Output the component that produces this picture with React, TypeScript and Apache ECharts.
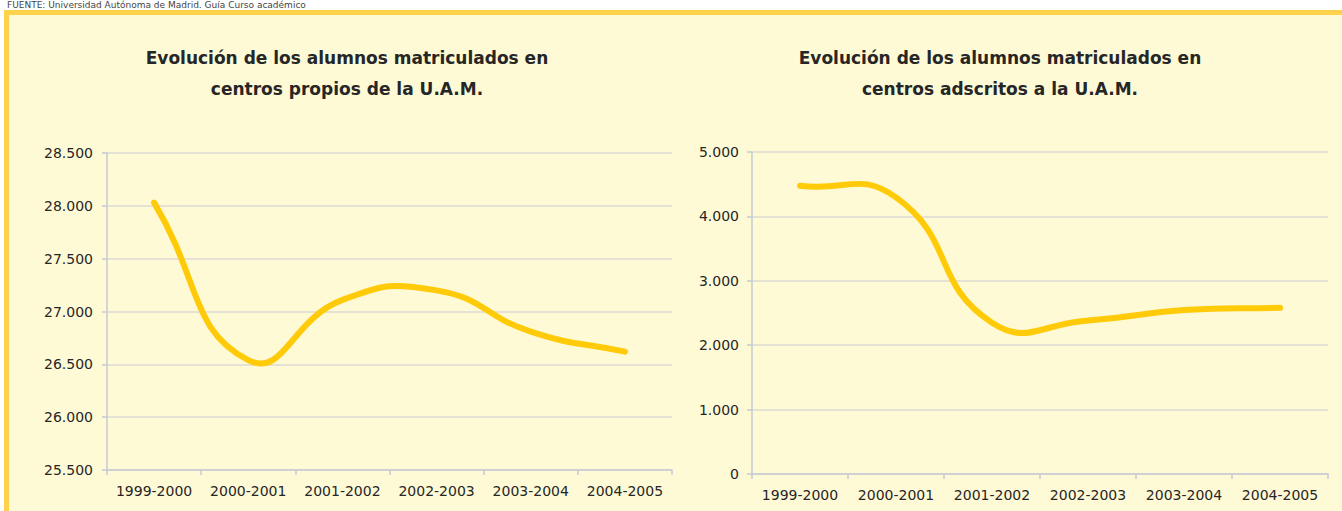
import React, { useEffect, useRef } from "react";
import * as echarts from "echarts";

const categories = ["1999-2000", "2000-2001", "2001-2002", "2002-2003", "2003-2004", "2004-2005"];
const propiosValues = [28030, 26540, 27110, 27200, 26810, 26620];
const adscritosValues = [4475, 4295, 2350, 2385, 2545, 2580];
const propiosTicks = [25500, 26000, 26500, 27000, 27500, 28000, 28500];
const adscritosTicks = [0, 1000, 2000, 3000, 4000, 5000];
const titlePropios = ["Evolución de los alumnos matriculados en", "centros propios de la U.A.M."];
const titleAdscritos = ["Evolución de los alumnos matriculados en", "centros adscritos a la U.A.M."];
const sourceNote = "FUENTE: Universidad Autónoma de Madrid. Guía Curso académico";

const LINE = "#FFCA08";
const GRID = "#DADAD2";
const AXIS = "#C6CAD6";
const TEXT = "#262626";
const FONT = '"DejaVu Sans", sans-serif';
const SMOOTH = 0.5;

const fmt = (v: number) => String(v).replace(/\B(?=(\d{3})+(?!\d))/g, ".");

function xAxis(gridIndex: number) {
  return {
    type: "category",
    gridIndex,
    data: categories,
    boundaryGap: true,
    axisLine: { show: true, lineStyle: { color: AXIS, width: 1.5 } },
    axisTick: { show: true, length: 5, inside: false, lineStyle: { color: AXIS, width: 1.5 } },
    axisLabel: { interval: 0, margin: 14, color: TEXT, fontFamily: FONT, fontSize: 14 },
    splitLine: { show: false },
  };
}

function yAxis(gridIndex: number, ticks: number[], margin: number) {
  return {
    type: "value",
    gridIndex,
    min: ticks[0],
    max: ticks[ticks.length - 1],
    interval: ticks[1] - ticks[0],
    axisLine: { show: true, lineStyle: { color: AXIS, width: 1.5 } },
    axisTick: { show: true, length: 5, lineStyle: { color: AXIS, width: 1.5 } },
    axisLabel: { margin, color: TEXT, fontFamily: FONT, fontSize: 14, formatter: fmt },
    splitLine: { show: true, lineStyle: { color: GRID, width: 1.5 } },
  };
}

// Smoothed line (Excel-like cardinal bezier) drawn through the axes' scales.
function smoothSeries(values: number[], axisIndex: number) {
  return {
    type: "custom",
    coordinateSystem: "cartesian2d",
    xAxisIndex: axisIndex,
    yAxisIndex: axisIndex,
    data: values.map((v, i) => [i, v]),
    encode: { x: 0, y: 1 },
    z: 5,
    renderItem: (params: any, api: any) => {
      if (params.dataIndex !== 0) return null;
      const pts: number[][] = values.map((v, i) => api.coord([i, v]));
      const n = pts.length;
      const cpIn: number[][] = [];
      const cpOut: number[][] = [];
      for (let i = 0; i < n; i++) {
        const p = pts[i];
        const prev = i > 0 ? pts[i - 1] : p;
        const next = i < n - 1 ? pts[i + 1] : p;
        const vx = next[0] - prev[0];
        const vy = next[1] - prev[1];
        const lp = Math.hypot(p[0] - prev[0], p[1] - prev[1]);
        const ln = Math.hypot(next[0] - p[0], next[1] - p[1]);
        const r = lp + ln > 0 ? ln / (lp + ln) : 0.5;
        cpIn[i] = [p[0] - vx * SMOOTH * (1 - r), p[1] - vy * SMOOTH * (1 - r)];
        cpOut[i] = [p[0] + vx * SMOOTH * r, p[1] + vy * SMOOTH * r];
      }
      let d = `M${pts[0][0]},${pts[0][1]}`;
      for (let i = 1; i < n; i++) {
        d += ` C${cpOut[i - 1][0]},${cpOut[i - 1][1]} ${cpIn[i][0]},${cpIn[i][1]} ${pts[i][0]},${pts[i][1]}`;
      }
      return {
        type: "path",
        shape: { pathData: d },
        style: { fill: "none", stroke: LINE, lineWidth: 6, lineCap: "round", lineJoin: "round" },
      };
    },
  };
}

function titleTexts(lines: string[], cx: number) {
  const ys = [58, 89];
  return lines.map((t, i) => ({
    type: "text",
    x: cx,
    y: ys[i],
    z: 10,
    style: {
      text: t,
      fill: TEXT,
      font: `bold 17px ${FONT}`,
      textAlign: "center",
      textVerticalAlign: "middle",
    },
  }));
}

export default function App() {
  const ref = useRef<HTMLDivElement>(null);
  useEffect(() => {
    if (!ref.current) return;
    const chart = echarts.init(ref.current, undefined, { renderer: "svg" });
    chart.setOption({
      animation: false,
      backgroundColor: "#ffffff",
      grid: [
        { left: 107, top: 153, width: 565, height: 317, containLabel: false },
        { left: 752, top: 152, width: 576, height: 322, containLabel: false },
      ],
      xAxis: [xAxis(0), xAxis(1)],
      yAxis: [yAxis(0, propiosTicks, 14), yAxis(1, adscritosTicks, 13)],
      series: [smoothSeries(propiosValues, 0), smoothSeries(adscritosValues, 1)],
      graphic: [
        {
          type: "rect",
          z: -100,
          shape: { x: 6.5, y: 12.5, width: 1400, height: 600 },
          style: { fill: "#FFFAD6", stroke: "#FFD24C", lineWidth: 5 },
        },
        {
          type: "text",
          x: 7,
          y: 0,
          z: 10,
          style: {
            text: sourceNote,
            fill: "#444444",
            font: `9px ${FONT}`,
            textVerticalAlign: "top",
          },
        },
        ...titleTexts(titlePropios, 347),
        ...titleTexts(titleAdscritos, 1000),
      ],
    });
    return () => chart.dispose();
  }, []);
  return (
    <div
      ref={ref}
      style={{ position: "fixed", left: 0, top: 0, width: 1342, height: 511 }}
    />
  );
}
